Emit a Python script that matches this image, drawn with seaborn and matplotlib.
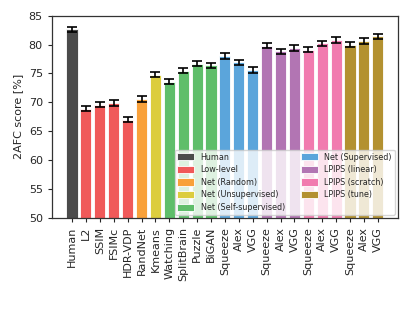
import matplotlib
matplotlib.use("Agg")
import matplotlib.pyplot as plt
import seaborn as sns
import pandas as pd
import numpy as np

labels = ["Human", "L2", "SSIM", "FSIMc", "HDR-VDP", "RandNet", "Kmeans", "Watching",
          "SplitBrain", "Puzzle", "BiGAN", "Squeeze", "Alex", "VGG",
          "Squeeze", "Alex", "VGG", "Squeeze", "Alex", "VGG", "Squeeze", "Alex", "VGG"]
groups = ["Human", "Low-level", "Low-level", "Low-level", "Low-level", "Net (Random)",
          "Net (Unsupervised)", "Net (Self-supervised)", "Net (Self-supervised)",
          "Net (Self-supervised)", "Net (Self-supervised)",
          "Net (Supervised)", "Net (Supervised)", "Net (Supervised)",
          "LPIPS (linear)", "LPIPS (linear)", "LPIPS (linear)",
          "LPIPS (scratch)", "LPIPS (scratch)", "LPIPS (scratch)",
          "LPIPS (tune)", "LPIPS (tune)", "LPIPS (tune)"]
scores = [82.6, 68.9, 69.6, 69.9, 67.0, 70.6, 74.8, 73.6, 75.5, 76.7, 76.4,
          78.0, 76.9, 75.6, 79.8, 78.8, 79.4, 79.1, 80.2, 80.8, 80.0, 80.6, 81.4]
errors = [0.45, 0.45, 0.45, 0.45, 0.45, 0.45, 0.45, 0.45, 0.45, 0.45, 0.45,
          0.45, 0.45, 0.45, 0.45, 0.45, 0.45, 0.45, 0.45, 0.45, 0.45, 0.45, 0.45]
group_names = ["Human", "Low-level", "Net (Random)", "Net (Unsupervised)",
               "Net (Self-supervised)", "Net (Supervised)", "LPIPS (linear)",
               "LPIPS (scratch)", "LPIPS (tune)"]
group_colors = ["#4b4b4b", "#f05959", "#f9a13a", "#dccd3e", "#5fbe6a",
                "#5ba5db", "#b275b3", "#f17baf", "#b39130"]

df = pd.DataFrame({"id": [f"{i:02d}" for i in range(len(labels))],
                   "score": scores, "group": groups})

sns.set_style("white")
plt.rcParams["font.family"] = ["DejaVu Sans"]
fig = plt.figure(figsize=(4.15, 3.12), dpi=100)
ax = fig.add_axes([0.125, 0.301, 0.834, 0.649])

sns.barplot(data=df, x="id", y="score", hue="group", hue_order=group_names,
            palette=dict(zip(group_names, group_colors)), dodge=False,
            saturation=1, width=0.8, edgecolor="white", linewidth=0.6,
            ax=ax, errorbar=None)
ax.errorbar(np.arange(len(scores)), scores, yerr=errors, fmt="none",
            ecolor="black", elinewidth=1.2, capsize=3.5, capthick=1.2)

ax.set_ylim(50, 85)
ax.set_xlim(-1.45, len(scores) - 1 + 1.45)
ax.set_yticks([50, 55, 60, 65, 70, 75, 80, 85])
ax.set_xticks(np.arange(len(labels)))
ax.set_xticklabels(labels, rotation=90, fontsize=8)
ax.tick_params(axis="y", labelsize=8, length=3, left=True)
ax.tick_params(axis="x", length=3, bottom=True)
ax.set_xlabel("")
ax.set_ylabel("2AFC score [%]", fontsize=8)
for s in ax.spines.values():
    s.set_color("#333333")
    s.set_linewidth(0.9)

leg = ax.legend(loc="lower right", ncol=2, fontsize=5.8, framealpha=0.8,
                handlelength=2.1, handleheight=1.0, columnspacing=2.0,
                labelspacing=0.45, borderpad=0.35, handletextpad=0.8,
                borderaxespad=0.4)
leg.get_frame().set_edgecolor("#cccccc")

fig.savefig("out.png", dpi=100)
